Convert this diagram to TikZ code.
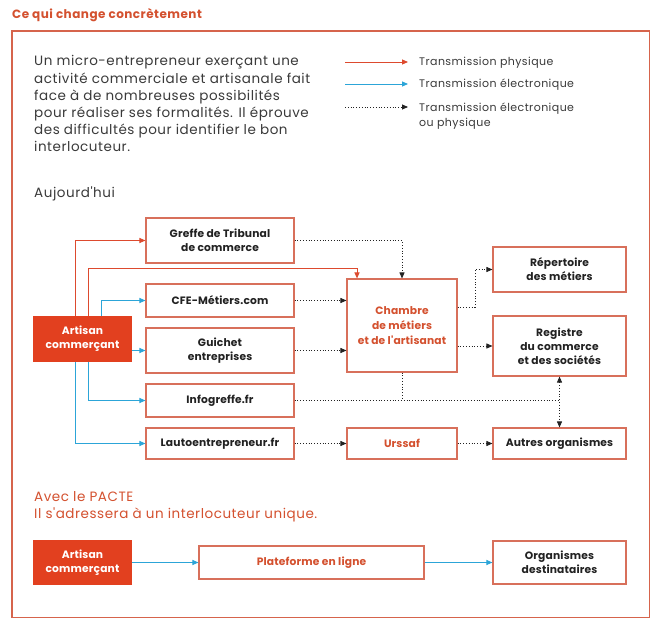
\documentclass[tikz,border=0pt]{standalone}
\usepackage{fontspec}
\setmainfont{Poppins}
\newfontfamily\spaced{Poppins}[LetterSpace=4]
\newfontfamily\boxfont{Poppins}[LetterSpace=1.5]
\usetikzlibrary{arrows.meta,calc}
\definecolor{framered}{HTML}{D6644C}
\definecolor{boxred}{HTML}{D8705B}
\definecolor{fillred}{HTML}{E2401F}
\definecolor{txtred}{HTML}{D4512F}
\definecolor{lred}{HTML}{DD4A2E}
\definecolor{lblue}{HTML}{2CA5D8}
\definecolor{txt}{HTML}{222222}
\definecolor{para}{HTML}{3A3A3A}
\begin{document}
\begin{tikzpicture}[x=1pt,y=-1pt,
  box/.style={draw=boxred, line width=1.1pt, fill=white, inner sep=0pt, align=center,
    font=\boxfont\fontsize{10.7}{14}\selectfont\bfseries, text=txt},
  redbox/.style={box, text=txtred},
  artbox/.style={box, draw=fillred, fill=fillred, text=white},
  rarr/.style={draw=lred, line width=1pt, -{Triangle[length=6pt,width=5pt]}},
  barr/.style={draw=lblue, line width=1pt, -{Triangle[length=6pt,width=5pt]}},
  dotline/.style={draw=txt, dotted, line width=0.8pt},
  darr/.style={dotline, -{Triangle[length=6pt,width=5pt]}},
  ddarr/.style={dotline, {Triangle[length=6pt,width=5pt]}-{Triangle[length=6pt,width=5pt]}},
  legend/.style={inner sep=0pt, font=\spaced\fontsize{11}{15}\selectfont, text=para, align=left},
  body/.style={inner sep=0pt, font=\spaced\fontsize{13.5}{17.2}\selectfont, text=para, align=left},
  pacte/.style={inner sep=0pt, font=\spaced\fontsize{13.5}{17.2}\selectfont, text=txtred, align=left}
]
\useasboundingbox (0,0) rectangle (660,634);
\fill[white] (0,0) rectangle (660,634);

% title and frame
\node[inner sep=0pt, anchor=west, font=\spaced\fontsize{12}{14}\selectfont\bfseries, text=txtred] (title) at (12,15) {Ce qui change concrètement};
\draw[framered, line width=1.3pt] (12,31) rectangle (649.5,617.5);

% intro text
\node[body, anchor=north west] (intro) at (34,55.5) {Un micro-entrepreneur exerçant une\\activité commerciale et artisanale fait\\face à de nombreuses possibilités\\pour réaliser ses formalités. Il éprouve\\des difficultés pour identifier le bon\\interlocuteur.};

% legend
\coordinate (l1a) at (345,62); \coordinate (l1b) at (408,62);
\coordinate (l2a) at (345,84); \coordinate (l2b) at (408,84);
\coordinate (l3a) at (345,107); \coordinate (l3b) at (408,107);
\draw[rarr] (l1a) -- (l1b);
\draw[barr] (l2a) -- (l2b);
\draw[darr] (l3a) -- (l3b);
\node[legend, anchor=west] (lt1) at (419,62.5) {Transmission physique};
\node[legend, anchor=west] (lt2) at (419,84.5) {Transmission électronique};
\node[legend, anchor=north west] (lt3) at (419,102.5) {Transmission électronique\\ou physique};

\node[body, anchor=west] (auj) at (34,193.5) {Aujourd'hui};

% boxes
\node[box, minimum width=148pt, minimum height=45pt] (greffe) at (220,240.5) {Greffe de Tribunal\\de commerce};
\node[box, minimum width=148pt, minimum height=33pt] (cfe) at (220,300.5) {CFE-Métiers.com};
\node[box, minimum width=148pt, minimum height=45pt] (guichet) at (220,350.5) {Guichet\\entreprises};
\node[box, minimum width=148pt, minimum height=33pt] (infog) at (220,400.5) {Infogreffe.fr};
\node[box, minimum width=148pt, minimum height=31pt] (lauto) at (220,443.5) {Lautoentrepreneur.fr};
\node[artbox, minimum width=97pt, minimum height=44pt] (artisan) at (82.5,339) {Artisan\\commerçant};
\node[redbox, minimum width=110pt, minimum height=93pt, font=\boxfont\fontsize{10.7}{15}\selectfont\bfseries] (chambre) at (402,325.5) {Chambre\\de métiers\\et de l'artisanat};
\node[box, minimum width=133pt, minimum height=45pt] (repert) at (559.5,269.5) {Répertoire\\des métiers};
\node[box, minimum width=133pt, minimum height=60pt] (registre) at (559.5,346) {Registre\\du commerce\\et des sociétés};
\node[redbox, minimum width=110pt, minimum height=31pt] (urssaf) at (402,443.5) {Urssaf};
\node[box, minimum width=133pt, minimum height=31pt] (autres) at (559.5,443.5) {Autres organismes};

% red connectors
\draw[rarr] ([xshift=42pt]artisan.north west) |- (greffe.west);
\coordinate (c2) at (357,268);
\draw[rarr] ([xshift=55pt]artisan.north west) |- (c2) -- (c2 |- chambre.north);
% blue connectors
\draw[barr] ([xshift=68pt]artisan.north west) |- (cfe.west);
\draw[barr] (artisan.east |- guichet.west) -- (guichet.west);
\draw[barr] ([xshift=55pt]artisan.south west) |- (infog.west);
\draw[barr] ([xshift=42pt]artisan.south west) |- (lauto.west);

% dotted connectors
\draw[darr] (greffe.east) -| (chambre.north);
\draw[darr] (cfe.east) -- (chambre.west |- cfe.east);
\draw[darr] (guichet.east) -- (chambre.west |- guichet.east);
\coordinate (r1) at (475,307);
\draw[darr] (chambre.east |- r1) -- (r1) |- (repert.west);
\draw[darr] (chambre.east |- registre.west) -- (registre.west);
\draw[dotline] (chambre.south) -- (chambre.south |- infog.east);
\draw[dotline] (infog.east) -- (registre.south |- infog.east);
\draw[ddarr] (registre.south) -- (autres.north);
\draw[darr] (lauto.east) -- (urssaf.west);
\draw[darr] (urssaf.east) -- (autres.west);

% PACTE
\node[pacte, anchor=north west] (pac) at (34,491) {Avec le PACTE\\Il s'adressera à un interlocuteur unique.};
\node[artbox, minimum width=97pt, minimum height=43pt] (art2) at (82.5,562.5) {Artisan\\commerçant};
\node[redbox, minimum width=225pt, minimum height=33pt] (plat) at (311.5,562.5) {Plateforme en ligne};
\node[box, minimum width=133pt, minimum height=43pt] (org) at (559.5,562.5) {Organismes\\destinataires};
\draw[barr] (art2.east) -- (plat.west);
\draw[barr] (plat.east) -- (org.west);
\end{tikzpicture}
\end{document}
